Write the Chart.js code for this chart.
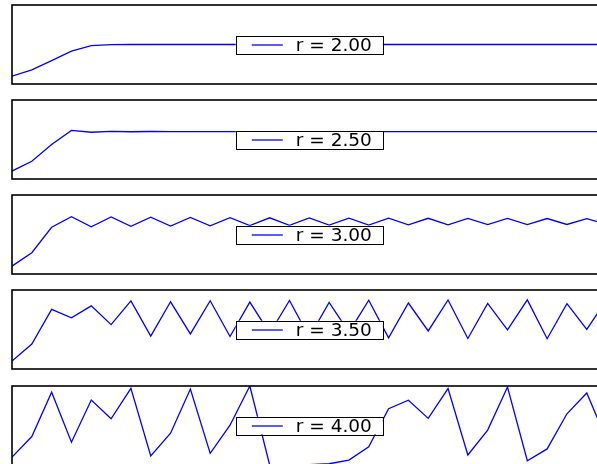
<!DOCTYPE html>
<html>
<head>
<meta charset="utf-8">
<script src="https://cdn.jsdelivr.net/npm/chart.js@4"></script>
<style>
html,body{margin:0;padding:0;background:#fff;width:597px;height:464px;overflow:hidden;}
.panel{position:absolute;left:0;}
</style>
</head>
<body>
<script>
// iteration index 0..30
const steps = [0,1,2,3,4,5,6,7,8,9,10,11,12,13,14,15,16,17,18,19,20,21,22,23,24,25,26,27,28,29,30];
const rLabels = ["r = 2.00", "r = 2.50", "r = 3.00", "r = 3.50", "r = 4.00"];
const seriesR200 = [0.1,0.18,0.2952,0.4161,0.4859,0.4996,0.5,0.5,0.5,0.5,0.5,0.5,0.5,0.5,0.5,0.5,0.5,0.5,0.5,0.5,0.5,0.5,0.5,0.5,0.5,0.5,0.5,0.5,0.5,0.5,0.5];
const seriesR250 = [0.1,0.225,0.4359,0.6147,0.5921,0.6038,0.5981,0.601,0.5995,0.6002,0.5999,0.6001,0.6,0.6,0.6,0.6,0.6,0.6,0.6,0.6,0.6,0.6,0.6,0.6,0.6,0.6,0.6,0.6,0.6,0.6,0.6];
const seriesR300 = [0.1,0.27,0.5913,0.725,0.5981,0.7211,0.6033,0.718,0.6075,0.7154,0.6109,0.7131,0.6137,0.7112,0.6162,0.7095,0.6183,0.708,0.6202,0.7066,0.6219,0.7054,0.6234,0.7043,0.6248,0.7033,0.626,0.7024,0.6271,0.7015,0.6282];
const seriesR350 = [0.1,0.315,0.7552,0.647,0.7993,0.5614,0.8618,0.4168,0.8508,0.4443,0.8641,0.4109,0.8472,0.453,0.8673,0.4029,0.842,0.4657,0.8709,0.3936,0.8354,0.4814,0.8738,0.386,0.8295,0.495,0.8749,0.383,0.8271,0.5005,0.875];
const seriesR400 = [0.1,0.36,0.9216,0.289,0.8219,0.5854,0.9708,0.1134,0.402,0.9616,0.1478,0.5039,0.9999,0.0002,0.001,0.0039,0.0157,0.0617,0.2317,0.7121,0.8201,0.5904,0.9673,0.1264,0.4416,0.9864,0.0537,0.2034,0.6481,0.9122,0.3203];

const allSeries = [seriesR200, seriesR250, seriesR300, seriesR350, seriesR400];

const CANVAS_W = 620;
const PAD_TOP = 6, PAD_BOTTOM = 6;
const PLOT_H = 79;
const FONT = '"DejaVu Sans", "Liberation Sans", sans-serif';

const frameAndLegend = {
  id: 'frameAndLegend',
  afterDatasetsDraw(chart) {
    const ctx = chart.ctx;
    const a = chart.chartArea;
    ctx.save();
    // axes frame
    ctx.strokeStyle = '#000';
    ctx.lineWidth = 1.6;
    ctx.strokeRect(a.left, a.top, a.right - a.left, a.bottom - a.top);
    // legend box centred in the axes
    const ds = chart.data.datasets[0];
    ctx.font = '18.5px ' + FONT;
    const tw = ctx.measureText(ds.label).width;
    const padL = 16, lineLen = 31, gap = 13, padR = 11;
    const bw = padL + lineLen + gap + tw + padR;
    const bh = 17.5;
    const cx = (a.left + a.right) / 2;
    const cy = (a.top + a.bottom) / 2;
    const bx = cx - bw / 2, by = cy - bh / 2;
    ctx.fillStyle = '#fff';
    ctx.fillRect(bx, by, bw, bh);
    ctx.lineWidth = 1;
    ctx.strokeStyle = '#000';
    ctx.strokeRect(Math.round(bx) + 0.5, Math.round(by) + 0.5, Math.round(bw), Math.round(bh));
    ctx.beginPath();
    ctx.strokeStyle = ds.borderColor;
    ctx.lineWidth = ds.borderWidth;
    ctx.moveTo(bx + padL, cy + 0.5);
    ctx.lineTo(bx + padL + lineLen, cy + 0.5);
    ctx.stroke();
    ctx.fillStyle = '#000';
    ctx.textBaseline = 'middle';
    ctx.textAlign = 'left';
    ctx.fillText(ds.label, bx + padL + lineLen + gap, cy + 1.5);
    ctx.restore();
  }
};

for (let i = 0; i < 5; i++) {
  const plotTop = 4.5 + 95.3 * i;
  const div = document.createElement('div');
  div.className = 'panel';
  div.style.top = (plotTop - PAD_TOP) + 'px';
  div.style.width = CANVAS_W + 'px';
  div.style.height = (PLOT_H + PAD_TOP + PAD_BOTTOM) + 'px';
  const cv = document.createElement('canvas');
  cv.width = CANVAS_W;
  cv.height = PLOT_H + PAD_TOP + PAD_BOTTOM;
  div.appendChild(cv);
  document.body.appendChild(div);

  new Chart(cv, {
    type: 'line',
    data: {
      datasets: [{
        label: rLabels[i],
        data: steps.map((s, k) => ({x: s, y: allSeries[i][k]})),
        borderColor: '#0000ff',
        borderWidth: 1.3,
        pointRadius: 0,
        tension: 0,
        fill: false
      }]
    },
    options: {
      responsive: false,
      animation: false,
      devicePixelRatio: 1,
      layout: { padding: { left: 12, right: CANVAS_W - 606.6, top: PAD_TOP, bottom: PAD_BOTTOM } },
      plugins: { legend: { display: false }, tooltip: { enabled: false } },
      scales: {
        x: { type: 'linear', min: 0, max: 30, display: false },
        y: { type: 'linear', min: 0, max: 1, display: false }
      }
    },
    plugins: [frameAndLegend]
  });
}
</script>
</body>
</html>
